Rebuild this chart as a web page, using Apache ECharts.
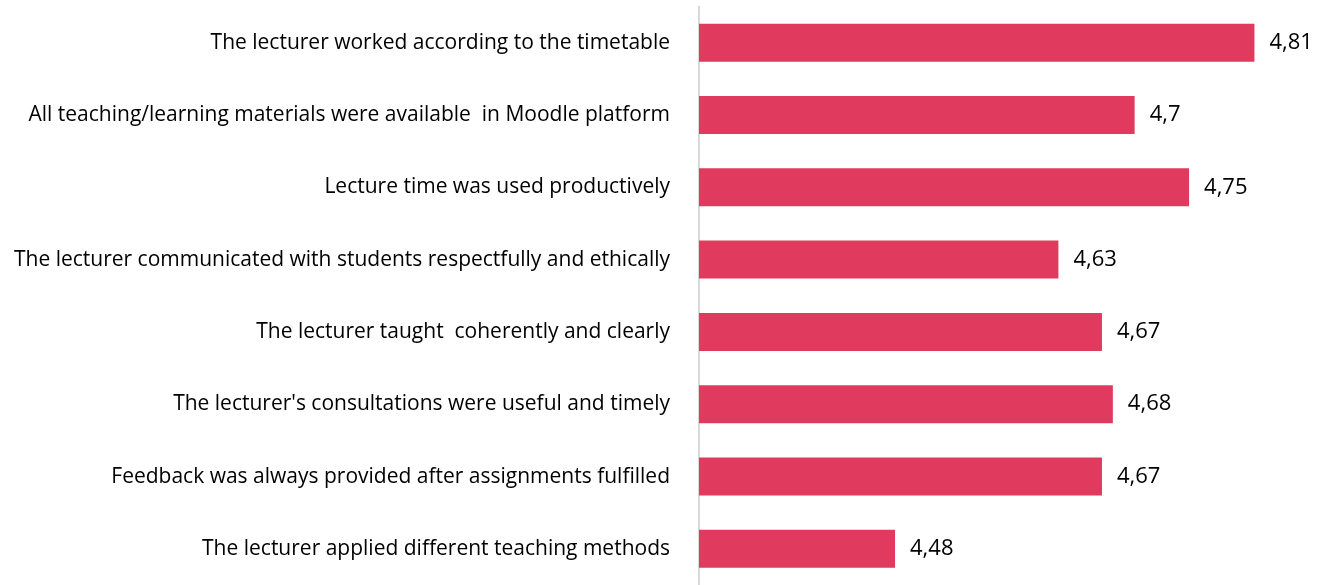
<!DOCTYPE html>
<html>
<head>
<meta charset="utf-8">
<script src="https://cdn.jsdelivr.net/npm/echarts@6/dist/echarts.min.js"></script>
<style>
  html, body { margin: 0; padding: 0; background: #fff; }
  #chart { width: 1336px; height: 585px; }
</style>
</head>
<body>
<div id="chart"></div>
<script>
const categories = [
  "The lecturer worked according to the timetable",
  "All teaching/learning materials were available  in Moodle platform",
  "Lecture time was used productively",
  "The lecturer communicated with students respectfully and ethically",
  "The lecturer taught  coherently and clearly",
  "The lecturer's consultations were useful and timely",
  "Feedback was always provided after assignments fulfilled",
  "The lecturer applied different teaching methods"
];
const scores = [4.81, 4.7, 4.75, 4.63, 4.67, 4.68, 4.67, 4.48];

const chart = echarts.init(document.getElementById("chart"));
chart.setOption({
  animation: false,
  grid: { left: 699, top: 6.5, height: 584, right: 38 },
  xAxis: {
    type: "value",
    min: 4.3,
    max: 4.85,
    show: false
  },
  yAxis: {
    type: "category",
    data: categories,
    inverse: true,
    axisLine: { lineStyle: { color: "#D9D9D9", width: 2 } },
    axisTick: { show: false },
    axisLabel: {
      color: "#000",
      fontFamily: "Open Sans",
      fontSize: 21,
      margin: 29
    }
  },
  series: [
    {
      type: "bar",
      data: scores,
      barWidth: 38,
      itemStyle: { color: "#E03A5F" },
      label: {
        show: true,
        position: "right",
        distance: 15,
        color: "#000",
        fontFamily: "Open Sans",
        fontSize: 22,
        formatter: p => String(p.value).replace(".", ",")
      }
    }
  ]
});
</script>
</body>
</html>
